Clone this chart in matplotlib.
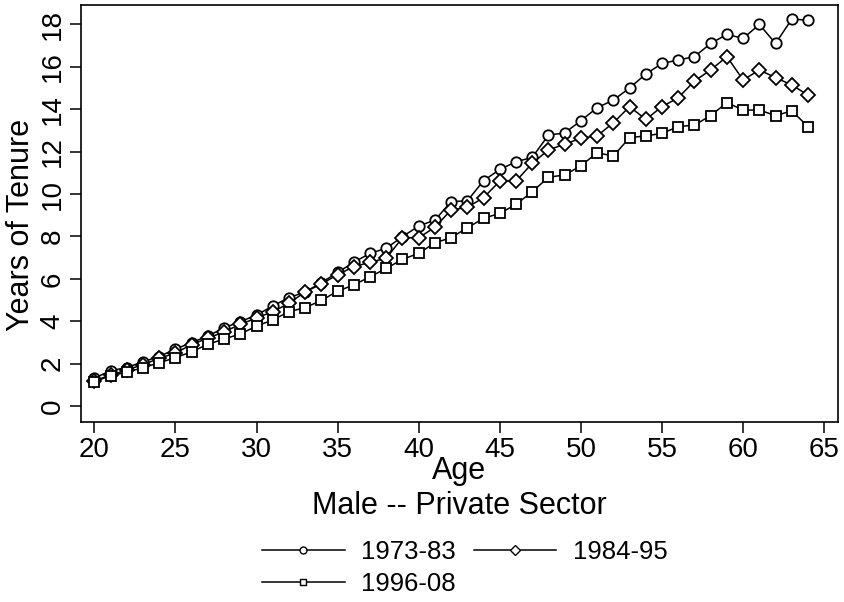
import matplotlib
matplotlib.use("Agg")
import matplotlib.pyplot as plt
from matplotlib.lines import Line2D

plt.rcParams['font.family'] = ['Liberation Sans', 'DejaVu Sans']

ages = list(range(20, 65))
tenure_1973_83 = [1.31, 1.67, 1.81, 2.09, 2.33, 2.69, 2.99, 3.30, 3.69, 3.98,
                  4.29, 4.72, 5.11, 5.38, 5.82, 6.30, 6.78, 7.20, 7.44, 7.99,
                  8.49, 8.77, 9.64, 9.68, 10.63, 11.16, 11.52, 11.73, 12.78, 12.88,
                  13.46, 14.07, 14.43, 15.00, 15.66, 16.16, 16.32, 16.48, 17.10, 17.53,
                  17.34, 18.00, 17.10, 18.25, 18.20]
tenure_1984_95 = [1.20, 1.45, 1.70, 1.95, 2.25, 2.50, 2.90, 3.20, 3.50, 3.85,
                  4.15, 4.45, 4.84, 5.39, 5.75, 6.20, 6.57, 6.78, 6.97, 7.94,
                  7.94, 8.43, 9.25, 9.37, 9.83, 10.61, 10.61, 11.45, 12.08, 12.35,
                  12.63, 12.74, 13.36, 14.12, 13.52, 14.12, 14.54, 15.33, 15.85, 16.48,
                  15.38, 15.85, 15.49, 15.14, 14.67]
tenure_1996_08 = [1.15, 1.43, 1.59, 1.81, 2.04, 2.28, 2.56, 2.91, 3.16, 3.40,
                  3.77, 4.06, 4.45, 4.64, 4.98, 5.42, 5.71, 6.10, 6.49, 6.92,
                  7.20, 7.70, 7.94, 8.41, 8.85, 9.09, 9.51, 10.11, 10.79, 10.90,
                  11.33, 11.95, 11.79, 12.66, 12.74, 12.86, 13.18, 13.25, 13.70, 14.31,
                  13.96, 13.96, 13.70, 13.92, 13.18]
labels = ['1973-83', '1984-95', '1996-08']
markers = ['o', 'D', 's']
xticks = list(range(20, 70, 5))
yticks = list(range(0, 20, 2))

fig = plt.figure(figsize=(8.44, 6.02), dpi=100)
ax = fig.add_axes([0.0956, 0.2995, 0.8973, 0.6927])

series = [tenure_1973_83, tenure_1984_95, tenure_1996_08]
msizes = [7.5, 7.0, 7.5]
for vals, m, lab, ms in zip(series, markers, labels, msizes):
    ax.plot(ages, vals, color='black', lw=1.1, marker=m, markersize=ms,
            markerfacecolor='white', markeredgecolor='black', markeredgewidth=1.3,
            label=lab)

ax.set_xlim(19.16, 65.85)
ax.set_ylim(-0.74, 18.93)
ax.set_xticks(xticks)
ax.set_yticks(yticks)
ax.tick_params(axis='both', direction='out', length=8, width=1.1, labelsize=20,
               color='black', labelcolor='black')
ax.tick_params(axis='y', pad=3)
ax.tick_params(axis='x', pad=3)
for lbl in ax.get_yticklabels():
    lbl.set_rotation(90)
    lbl.set_va('center')
for sp in ax.spines.values():
    sp.set_linewidth(1.2)
    sp.set_color('black')

fig.text(0.544, 1 - 471 / 602, 'Age', ha='center', va='center', fontsize=22)
fig.text(0.544, 1 - 506 / 602, 'Male -- Private Sector', ha='center', va='center', fontsize=22)
fig.text(21 / 844, 1 - 225 / 602, 'Years of Tenure', ha='center', va='center',
         rotation=90, fontsize=22)

handles = [Line2D([], [], color='black', lw=1.1, marker=m, markersize=5,
                  markerfacecolor='white', markeredgecolor='black', markeredgewidth=1.0)
           for m in markers]
order = [0, 2, 1]
fig.legend([handles[i] for i in order], [labels[i] for i in order], ncol=2,
           loc='center', bbox_to_anchor=(0.551, 1 - 568 / 602), frameon=False,
           fontsize=18.5, handlelength=3.2, handletextpad=0.65, columnspacing=0.7,
           labelspacing=0.3, borderpad=0)

fig.savefig('out.png', dpi=100)
